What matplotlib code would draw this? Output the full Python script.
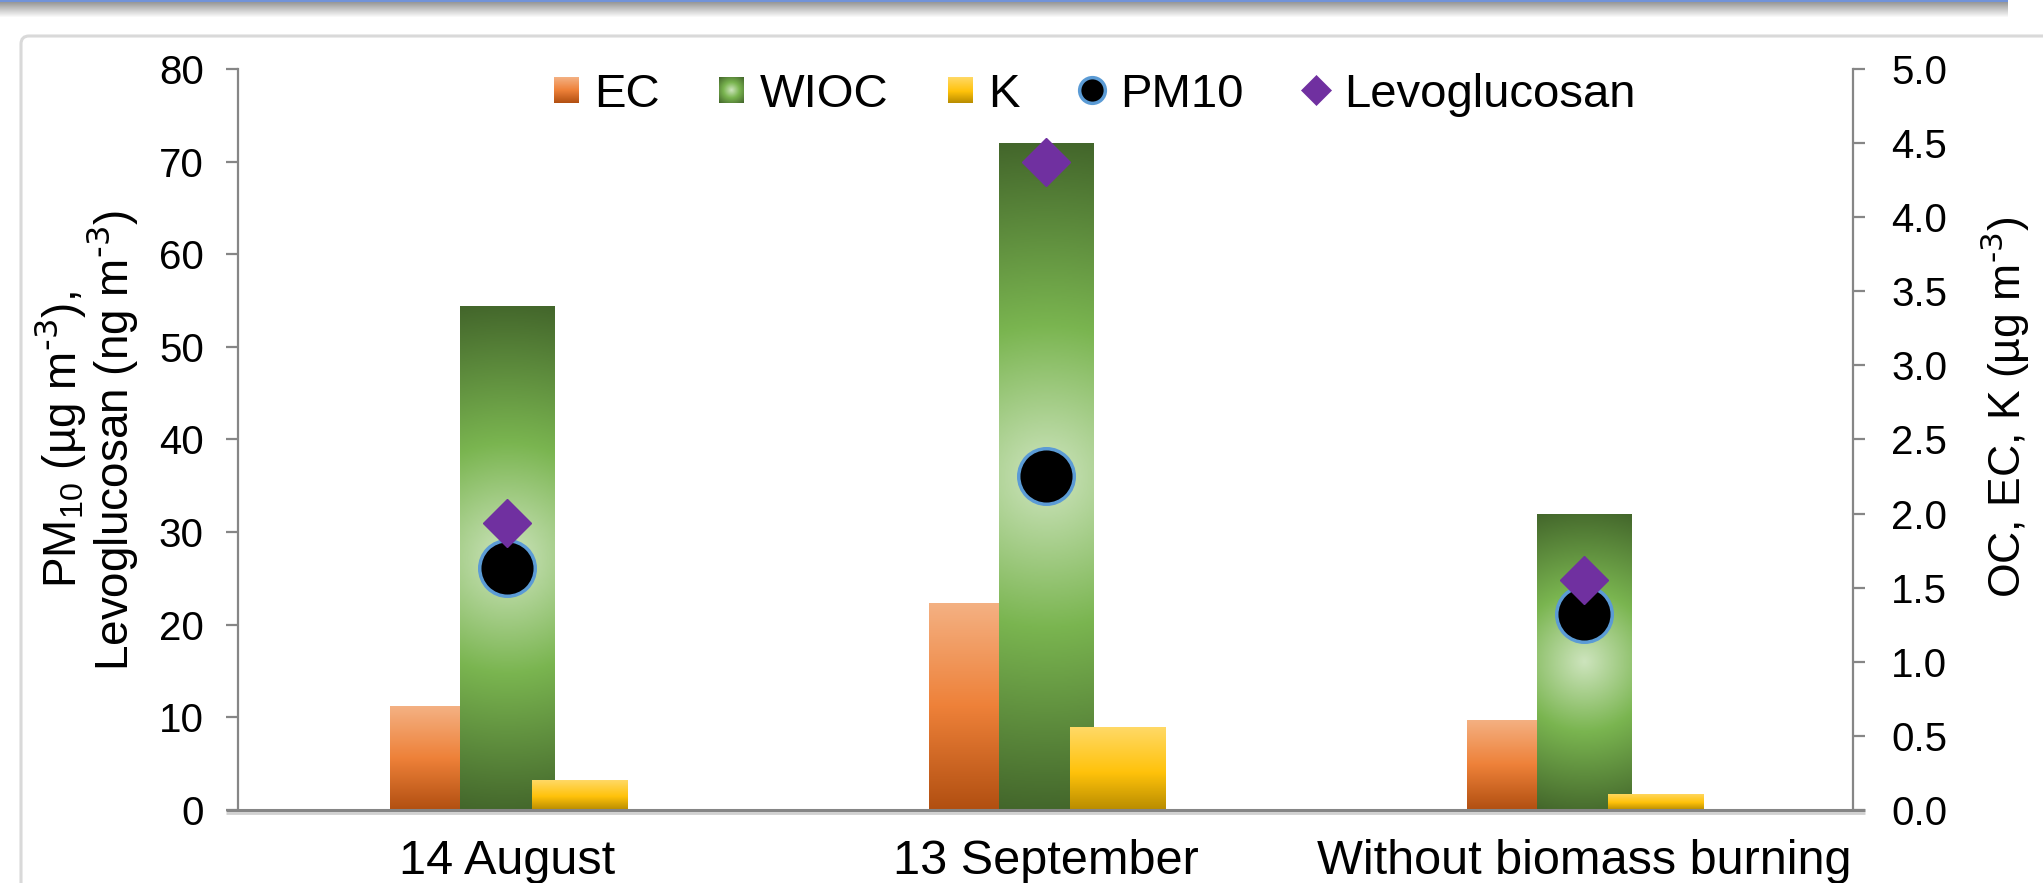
import numpy as np
import matplotlib
matplotlib.use("Agg")
import matplotlib.pyplot as plt
from matplotlib.colors import LinearSegmentedColormap
from matplotlib.lines import Line2D
from matplotlib.patches import Rectangle, FancyBboxPatch
from matplotlib.legend_handler import HandlerBase
from matplotlib.image import BboxImage
from matplotlib.transforms import Bbox, TransformedBbox

# ---- data -------------------------------------------------------------
categories = ["14 August", "13 September", "Without biomass burning"]
ec = [0.70, 1.40, 0.61]            # µg m-3 (right axis)
wioc = [3.40, 4.50, 2.00]          # µg m-3 (right axis)
potassium = [0.20, 0.56, 0.11]     # µg m-3 (right axis)
pm10 = [26.1, 36.1, 21.2]          # µg m-3 (left axis)
levoglucosan = [31.0, 70.0, 24.8]  # ng m-3 (left axis)
left_ticks = [0, 10, 20, 30, 40, 50, 60, 70, 80]
right_ticks = [0.0, 0.5, 1.0, 1.5, 2.0, 2.5, 3.0, 3.5, 4.0, 4.5, 5.0]

plt.rcParams['font.family'] = ['Liberation Sans', 'DejaVu Sans']
plt.rcParams['mathtext.default'] = 'regular'

W, H = 2043, 883
fig = plt.figure(figsize=(W / 100, H / 100), dpi=100)
fig.patch.set_facecolor('white')

# ---- colour ramps -----------------------------------------------------
ec_cmap = LinearSegmentedColormap.from_list(
    'ec', [(0.0, '#f4b183'), (0.5, '#ee8139'), (1.0, '#b14f11')])
k_cmap = LinearSegmentedColormap.from_list(
    'k', [(0.0, '#ffd966'), (0.55, '#ffc20a'), (1.0, '#b88c00')])
wioc_cmap = LinearSegmentedColormap.from_list(
    'wioc', [(0.0, '#cde4bd'), (0.45, '#7ab550'), (1.0, '#43662b')])


def vertical_ramp(cmap, n=256):
    t = np.linspace(0, 1, n)[:, None]
    return cmap(np.repeat(t, 2, axis=1))


def radial_ramp(cmap, w_px, h_px, nx=80, ny=300):
    xx, yy = np.meshgrid(np.linspace(0, 1, nx), np.linspace(0, 1, ny))
    dx = (xx - 0.5) * w_px
    dy = (yy - 0.5) * h_px
    r = np.hypot(dx, dy) / np.hypot(w_px / 2, h_px / 2)
    return cmap(np.clip(r, 0, 1))


# ---- page decoration --------------------------------------------------
bg = fig.add_axes([0, 0, 1, 1], zorder=-10)
bg.set_xlim(0, W)
bg.set_ylim(H, 0)
bg.axis('off')

band = np.ones((18, 2, 3))
top = np.array([0.45, 0.58, 0.85])
grey = np.array([0.60, 0.60, 0.60])
for i in range(18):
    if i < 2:
        band[i] = top
    else:
        f = (i - 2) / 15.0
        band[i] = grey * (1 - f) + np.ones(3) * f
bg.imshow(band, extent=(0, 2008, 18, 0), aspect='auto', interpolation='bilinear')
bg.add_patch(FancyBboxPatch((21, 36), 2200, 1000,
                            boxstyle='round,pad=0,rounding_size=8',
                            ec='#d9d9d9', fc='white', lw=2.2))

# ---- axes -------------------------------------------------------------
ax = fig.add_axes([238 / W, 1 - 810 / H, 1615 / W, 741 / H])
ax2 = ax.twinx()
ax.set_zorder(ax2.get_zorder() + 1)
ax.patch.set_visible(False)

x = np.arange(len(categories))
EC_OFF, EC_W = -0.152, 0.130
WIOC_OFF, WIOC_W = 0.001, 0.176
K_OFF, K_W = 0.134, 0.177

ax.set_xlim(-0.5, len(categories) - 0.5)
ax.set_ylim(0, 80)
ax2.set_ylim(0, 5)

ec_bars = ax2.bar(x + EC_OFF, ec, width=EC_W, color='#ee8139', lw=0, zorder=2)
wioc_bars = ax2.bar(x + WIOC_OFF, wioc, width=WIOC_W, color='#7ab550', lw=0, zorder=2)
k_bars = ax2.bar(x + K_OFF, potassium, width=K_W, color='#ffc20a', lw=0, zorder=3)

px_per_x = 1615 / len(categories)
px_per_y = 741 / 5.0


def paint(bars, maker):
    for b in bars:
        x0, y0 = b.get_xy()
        w, h = b.get_width(), b.get_height()
        img = maker(w * px_per_x, h * px_per_y)
        im = ax2.imshow(img, extent=(x0, x0 + w, y0, y0 + h), aspect='auto',
                        origin='upper', interpolation='bilinear',
                        zorder=b.get_zorder() + 0.5)
        im.set_clip_path(b)


paint(ec_bars, lambda w, h: vertical_ramp(ec_cmap))
paint(wioc_bars, lambda w, h: radial_ramp(wioc_cmap, w, h))
paint(k_bars, lambda w, h: vertical_ramp(k_cmap))

ax.set_xlim(-0.5, len(categories) - 0.5)
ax2.set_xlim(-0.5, len(categories) - 0.5)
ax2.set_ylim(0, 5)

# markers
ax.plot(x, pm10, ls='none', marker='o', ms=40, mfc='black', mec='#5b9bd5',
        mew=2.5, zorder=5, clip_on=False)
ax.plot(x, levoglucosan, ls='none', marker='D', ms=24, mfc='#7030a0',
        mec='#7030a0', mew=1, zorder=6, clip_on=False)

# ticks & spines
axis_grey = '#868686'
ax.set_yticks(left_ticks)
ax.set_yticklabels([f'{v:d}' for v in left_ticks])
ax.tick_params(axis='y', direction='out', length=8.6, width=1.6, color=axis_grey,
               labelsize=29, pad=16)
ax2.set_yticks(right_ticks)
ax2.set_yticklabels([f'{v:.1f}' for v in right_ticks])
ax2.tick_params(axis='y', direction='out', length=8.6, width=1.6, color=axis_grey,
                labelsize=29, pad=19)
ax.set_xticks(x)
ax.set_xticklabels(categories)
ax.tick_params(axis='x', length=0, labelsize=35, pad=21)

for s in ('top', 'right', 'bottom'):
    ax.spines[s].set_visible(False)
for s in ('top', 'left', 'bottom'):
    ax2.spines[s].set_visible(False)
ax.spines['left'].set_color(axis_grey)
ax.spines['left'].set_linewidth(1.6)
ax2.spines['right'].set_color(axis_grey)
ax2.spines['right'].set_linewidth(1.6)

# category axis line with a soft shadow
ax.plot([-0.0074, 1.0074], [-0.004, -0.004], transform=ax.transAxes,
        color='#d0d0d0', lw=2.0, clip_on=False, zorder=7, solid_capstyle='butt')
ax.plot([-0.0074, 1.0074], [0, 0], transform=ax.transAxes,
        color='#858585', lw=2.2, clip_on=False, zorder=8, solid_capstyle='butt')

# axis titles
fig.text(60 / W, 1 - 440 / H, r'PM$_{10}$ (µg m$^{\text{-3}}$),', rotation=90,
         fontsize=33, ha='center', va='center')
fig.text(112 / W, 1 - 440 / H, r'Levoglucosan (ng m$^{\text{-3}}$)', rotation=90,
         fontsize=33, ha='center', va='center')
fig.text(2005 / W, 1 - 407 / H, r'OC, EC, K (µg m$^{\text{-3}}$)', rotation=90,
         fontsize=32, ha='center', va='center')


# ---- legend -----------------------------------------------------------
class GradientSwatch(HandlerBase):
    def __init__(self, img, sw=17.5, sh=18.5):
        super().__init__()
        self.img = img
        self.sw = sw
        self.sh = sh

    def create_artists(self, legend, orig_handle, xdescent, ydescent,
                       width, height, fontsize, trans):
        cx = -xdescent + width / 2
        cy = -ydescent + height / 2
        bb = Bbox.from_bounds(cx - self.sw / 2, cy - self.sh / 2, self.sw, self.sh)
        image = BboxImage(TransformedBbox(bb, trans), interpolation='bilinear')
        image.set_data(self.img)
        return [image]


h_ec = Rectangle((0, 0), 1, 1)
h_wioc = Rectangle((0, 0), 1, 1)
h_k = Rectangle((0, 0), 1, 1)
h_pm = Line2D([], [], ls='none', marker='o', ms=18.5, mfc='black',
              mec='#5b9bd5', mew=2.5)
h_lev = Line2D([], [], ls='none', marker='D', ms=15.5, mfc='#7030a0',
               mec='#7030a0', mew=0.5)

leg = fig.legend([h_ec, h_wioc, h_k, h_pm, h_lev],
                 ['EC', 'WIOC', 'K', 'PM10', 'Levoglucosan'],
                 handler_map={
                     h_ec: GradientSwatch(vertical_ramp(ec_cmap)),
                     h_wioc: GradientSwatch(radial_ramp(wioc_cmap, 24, 26, 40, 40)),
                     h_k: GradientSwatch(vertical_ramp(k_cmap)),
                 },
                 loc='center', bbox_to_anchor=(1094 / W, 1 - 95 / H), ncol=5,
                 frameon=False, fontsize=34, handlelength=0.55, handleheight=0.7,
                 handletextpad=0.32, columnspacing=1.25, borderpad=0,
                 borderaxespad=0, numpoints=1)

fig.savefig('out.png', dpi=100, facecolor='white')
